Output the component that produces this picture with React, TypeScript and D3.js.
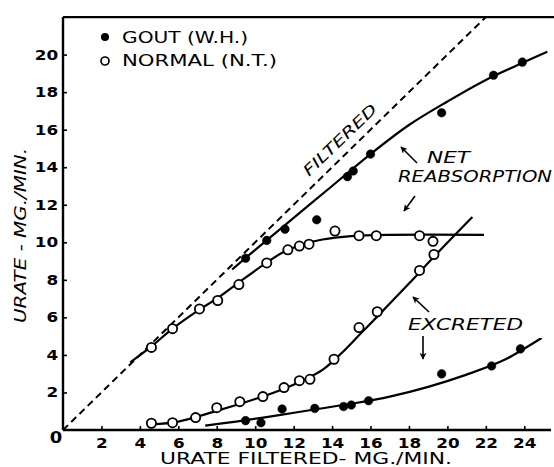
import React, { useRef, useEffect } from "react";
import * as d3 from "d3";

// tick values
const xTicks = [2, 4, 6, 8, 10, 12, 14, 16, 18, 20, 22, 24];
const yTicks = [2, 4, 6, 8, 10, 12, 14, 16, 18, 20];

// gout (W.H.) - filled dots
const goutReabsX = [9.5, 10.6, 11.55, 13.2, 14.8, 15.1, 16.0, 19.7, 22.4, 23.9];
const goutReabsY = [9.15, 10.1, 10.7, 11.2, 13.5, 13.8, 14.7, 16.9, 18.9, 19.6];
const goutExcrX = [9.5, 10.3, 11.4, 13.1, 14.6, 15.0, 15.9, 19.7, 22.3, 23.8];
const goutExcrY = [0.5, 0.39, 1.12, 1.15, 1.25, 1.33, 1.56, 2.99, 3.41, 4.32];

// normal (N.T.) - open circles
const normalReabsX = [4.6, 5.7, 7.1, 8.05, 9.15, 10.6, 11.7, 12.3, 12.8, 14.15, 15.4, 16.3, 18.55, 19.25];
const normalReabsY = [4.4, 5.4, 6.45, 6.9, 7.75, 8.9, 9.6, 9.8, 9.9, 10.6, 10.35, 10.35, 10.35, 10.05];
const normalExcrX = [4.6, 5.7, 6.9, 8.0, 9.2, 10.4, 11.5, 12.3, 12.85, 14.1, 15.4, 16.35, 18.55, 19.3];
const normalExcrY = [0.36, 0.39, 0.66, 1.19, 1.51, 1.78, 2.26, 2.63, 2.7, 3.77, 5.46, 6.3, 8.5, 9.35];

// hand drawn curves
const goutReabsCurveX = [8.8, 10, 12, 14, 16, 18, 20, 22, 24, 25.2];
const goutReabsCurveY = [8.55, 9.6, 11.3, 13.0, 14.7, 16.25, 17.5, 18.65, 19.6, 20.15];
const goutExcrCurveX = [7.4, 9, 11, 13, 15, 17, 19, 21, 23, 24.9];
const goutExcrCurveY = [0.23, 0.45, 0.75, 1.08, 1.4, 1.78, 2.3, 2.95, 3.75, 4.9];
const normalReabsCurveX = [3.5, 4.6, 5.7, 7, 8, 9, 10.5, 11.5, 12.5, 13.5, 15, 17, 21.9];
const normalReabsCurveY = [3.6, 4.45, 5.4, 6.35, 7.0, 7.75, 8.85, 9.5, 9.9, 10.15, 10.33, 10.4, 10.4];
const normalExcrCurveX = [4.6, 6, 8, 10, 11.5, 12.5, 13.5, 14.5, 15.5, 16.5, 18, 19.5, 21.3];
const normalExcrCurveY = [0.3, 0.45, 1.02, 1.65, 2.2, 2.65, 3.2, 4.1, 5.15, 6.2, 7.8, 9.45, 11.35];

const font = "'DejaVu Sans', sans-serif";

const UrateChart = () => {
  const chartRef = useRef<SVGSVGElement>(null);

  useEffect(() => {
    const width = 554;
    const height = 467;
    const svg = d3.select(chartRef.current);
    svg.selectAll("*").remove();
    svg.attr("width", width).attr("height", height);

    const x = d3.scaleLinear().domain([0, 25.5]).range([63, 63 + 25.5 * 19.22]);
    const y = d3.scaleLinear().domain([0, 22]).range([430, 430 - 22 * 18.77]);

    svg.append("defs")
      .append("marker")
      .attr("id", "head")
      .attr("viewBox", "0 0 10 10")
      .attr("refX", 9)
      .attr("refY", 5)
      .attr("markerWidth", 7)
      .attr("markerHeight", 7)
      .attr("markerUnits", "userSpaceOnUse")
      .attr("orient", "auto")
      .append("path")
      .attr("d", "M0,0 L10,5 L0,10 L3,5 z")
      .attr("fill", "#000");

    // top line of the frame
    svg.append("line").attr("x1", x(0)).attr("x2", width).attr("y1", y(22)).attr("y2", y(22))
      .attr("stroke", "#000").attr("stroke-width", 2.2);

    // x axis, ticks pointing inward
    const xAxis = d3.axisBottom(x).tickValues(xTicks).tickSize(-4).tickPadding(8).tickSizeOuter(0);
    const gx = svg.append("g").attr("transform", `translate(0,${y(0)})`).call(xAxis);
    gx.select(".domain").attr("d", `M${x(0)},0H${width - 3}`).attr("stroke-width", 2.4);
    gx.selectAll(".tick line").attr("stroke-width", 1.6);
    gx.selectAll(".tick text")
      .attr("font-family", font)
      .attr("font-weight", "bold")
      .attr("font-size", 14)
      .attr("transform", "scale(1.2,1)");

    // y axis
    const yAxis = d3.axisLeft(y).tickValues(yTicks).tickSize(-4).tickPadding(6).tickSizeOuter(0);
    const gy = svg.append("g").attr("transform", `translate(${x(0)},0)`).call(yAxis);
    gy.select(".domain").attr("d", `M0,${y(22)}V${y(0)}`).attr("stroke-width", 2.4);
    gy.selectAll(".tick line").attr("stroke-width", 1.6);
    gy.selectAll(".tick text")
      .attr("font-family", font)
      .attr("font-weight", "bold")
      .attr("font-size", 14)
      .attr("x", -4)
      .attr("transform", "scale(1.2,1)");

    // origin "0"
    svg.append("text").attr("x", 56).attr("y", 443).attr("text-anchor", "middle")
      .attr("font-family", font).attr("font-weight", "bold").attr("font-size", 15)
      .attr("transform", "translate(-11.2,0) scale(1.2,1)").text("0");

    // axis titles
    svg.append("text").attr("x", 160).attr("y", 464)
      .attr("font-family", font).attr("font-size", 15)
      .attr("textLength", 292).attr("lengthAdjust", "spacingAndGlyphs")
      .text("URATE FILTERED- MG./MIN.");
    svg.append("text")
      .attr("transform", "translate(26,323) rotate(-90)")
      .attr("font-family", font).attr("font-size", 16).attr("font-style", "italic")
      .attr("textLength", 175).attr("lengthAdjust", "spacingAndGlyphs")
      .text("URATE - MG./MIN.");

    // filtered line y = x
    svg.append("line").attr("x1", x(0)).attr("y1", y(0)).attr("x2", x(22)).attr("y2", y(22))
      .attr("stroke", "#000").attr("stroke-width", 2).attr("stroke-dasharray", "7,4.5");

    const curve = (xs: number[], ys: number[]) =>
      d3.line<number>().x((d) => x(xs[d])).y((d) => y(ys[d]))
        .curve(d3.curveCatmullRom.alpha(0.5))(d3.range(xs.length));

    [
      [goutReabsCurveX, goutReabsCurveY],
      [goutExcrCurveX, goutExcrCurveY],
      [normalReabsCurveX, normalReabsCurveY],
      [normalExcrCurveX, normalExcrCurveY],
    ].forEach(([xs, ys]) => {
      svg.append("path").attr("d", curve(xs, ys)).attr("fill", "none")
        .attr("stroke", "#000").attr("stroke-width", 2.2);
    });

    // points
    const dots = (xs: number[], ys: number[], filled: boolean) => {
      svg.append("g").selectAll("circle").data(d3.range(xs.length)).enter().append("circle")
        .attr("cx", (d) => x(xs[d])).attr("cy", (d) => y(ys[d]))
        .attr("r", filled ? 4.3 : 4.6)
        .attr("fill", filled ? "#000" : "#fff")
        .attr("stroke", "#000").attr("stroke-width", filled ? 0.5 : 1.8);
    };
    dots(normalReabsX, normalReabsY, false);
    dots(normalExcrX, normalExcrY, false);
    dots(goutReabsX, goutReabsY, true);
    dots(goutExcrX, goutExcrY, true);

    // legend
    svg.append("circle").attr("cx", 105).attr("cy", 37).attr("r", 4).attr("fill", "#000");
    svg.append("circle").attr("cx", 105).attr("cy", 61).attr("r", 4).attr("fill", "#fff")
      .attr("stroke", "#000").attr("stroke-width", 1.7);
    svg.append("text").attr("x", 122).attr("y", 43).attr("font-family", font).attr("font-size", 16)
      .attr("textLength", 126).attr("lengthAdjust", "spacingAndGlyphs").text("GOUT (W.H.)");
    svg.append("text").attr("x", 122).attr("y", 66).attr("font-family", font).attr("font-size", 16)
      .attr("textLength", 155).attr("lengthAdjust", "spacingAndGlyphs").text("NORMAL (N.T.)");

    // annotations
    svg.append("text").attr("transform", "translate(340,140) rotate(-44)")
      .attr("y", 5).attr("text-anchor", "middle")
      .attr("font-family", font).attr("font-size", 15).attr("font-style", "italic")
      .attr("textLength", 96).attr("lengthAdjust", "spacingAndGlyphs").text("FILTERED");
    svg.append("text").attr("x", 427).attr("y", 163).attr("font-family", font).attr("font-size", 15)
      .attr("font-style", "italic").attr("textLength", 43).attr("lengthAdjust", "spacingAndGlyphs").text("NET");
    svg.append("text").attr("x", 398).attr("y", 182).attr("font-family", font).attr("font-size", 15)
      .attr("font-style", "italic").attr("textLength", 154).attr("lengthAdjust", "spacingAndGlyphs")
      .text("REABSORPTION");
    svg.append("text").attr("x", 408).attr("y", 330).attr("font-family", font).attr("font-size", 15)
      .attr("font-style", "italic").attr("textLength", 115).attr("lengthAdjust", "spacingAndGlyphs")
      .text("EXCRETED");

    const arrow = (x1: number, y1: number, x2: number, y2: number) =>
      svg.append("line").attr("x1", x1).attr("y1", y1).attr("x2", x2).attr("y2", y2)
        .attr("stroke", "#000").attr("stroke-width", 1.6).attr("marker-end", "url(#head)");
    arrow(417, 163, 401, 147);
    arrow(415, 196, 404, 211);
    arrow(429, 312, 413, 297);
    arrow(423, 336, 423, 359);
  }, []);

  return <svg ref={chartRef} style={{ position: "absolute", left: 0, top: 0, background: "#fff" }} />;
};

export default function App() {
  return (
    <div>
      <UrateChart />
    </div>
  );
}
